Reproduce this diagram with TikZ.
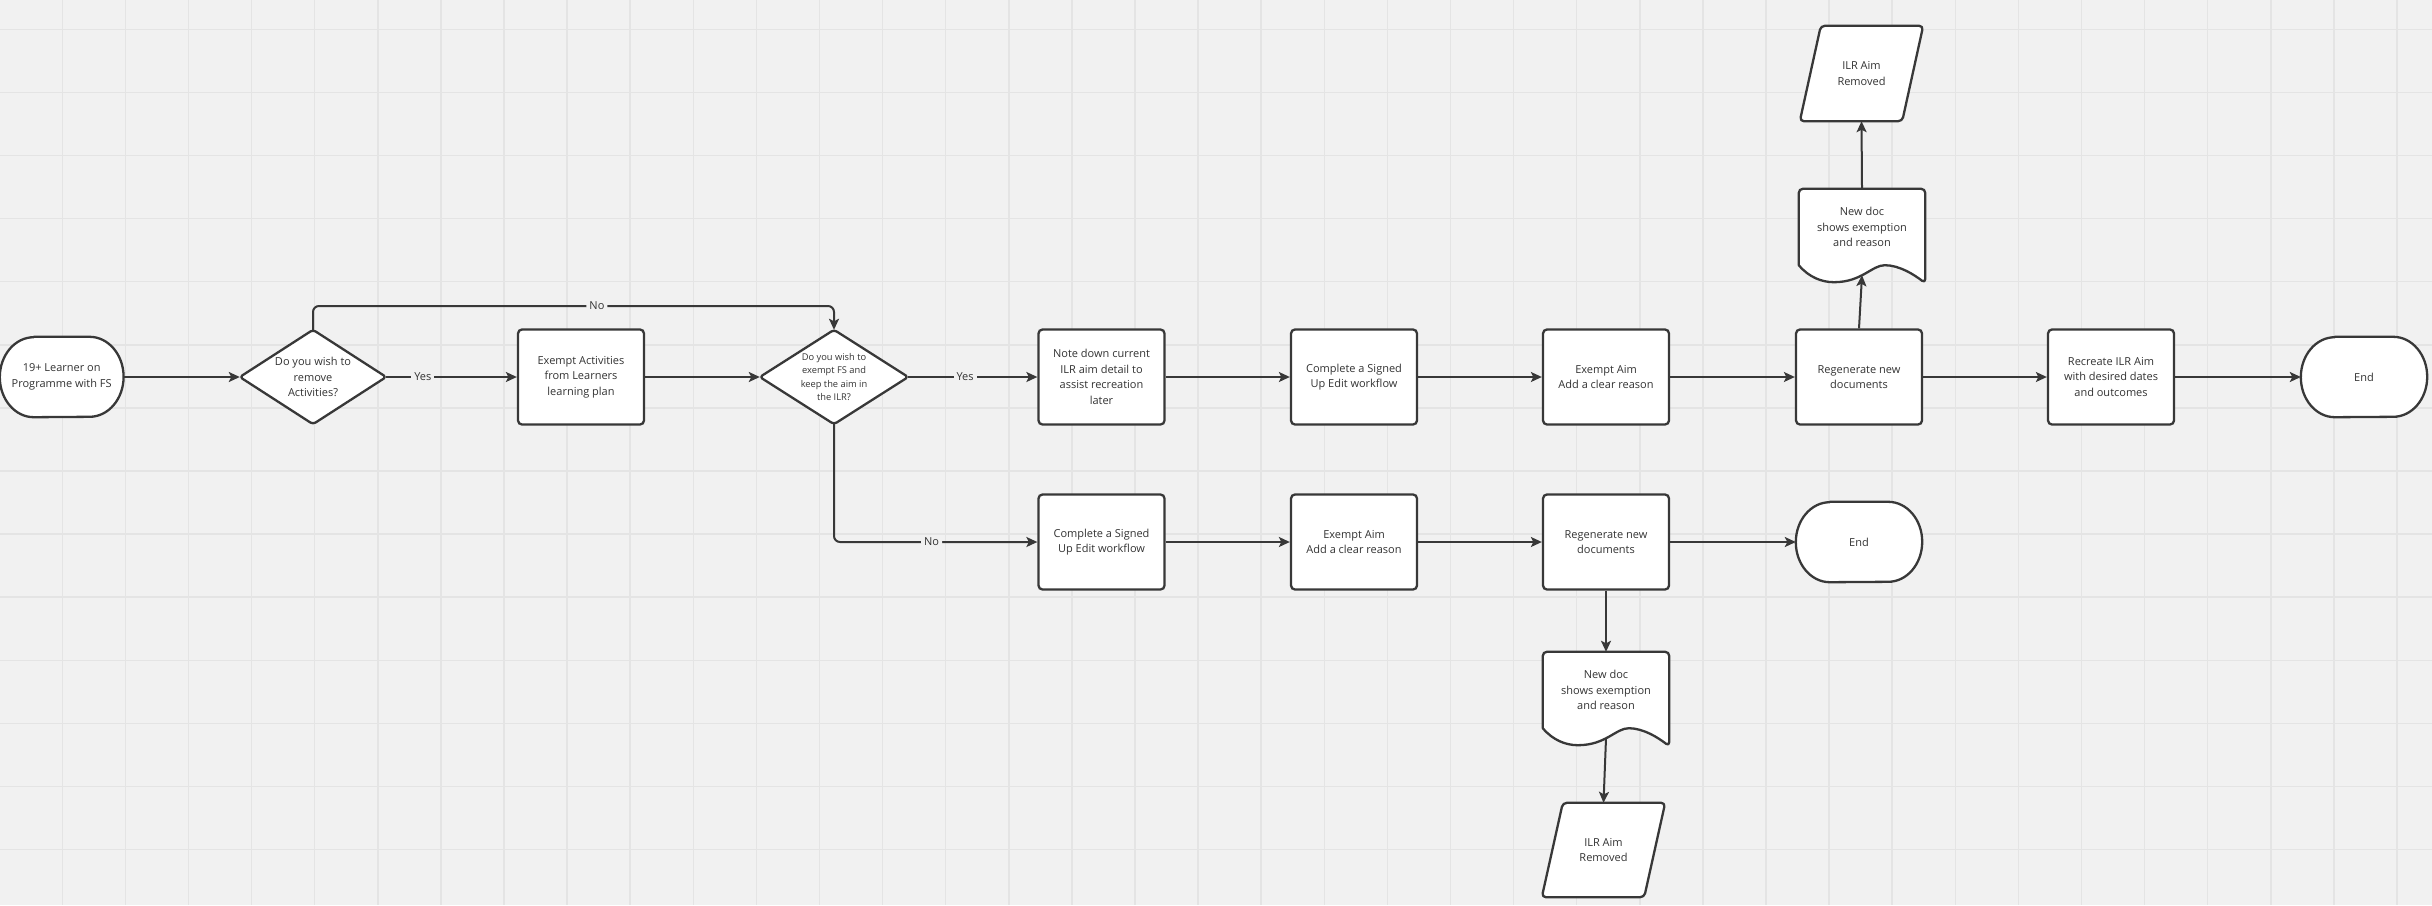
\documentclass[tikz,border=0pt]{standalone}
\usepackage{fontspec}
\setmainfont{Open Sans}
\usetikzlibrary{arrows.meta,calc}
\pgfdeclarelayer{gridlayer}
\pgfdeclarelayer{shapelayer}
\pgfsetlayers{gridlayer,shapelayer,main}
\definecolor{bgc}{HTML}{F1F1F1}
\definecolor{gridc}{HTML}{E4E4E4}
\definecolor{ink}{HTML}{383838}
\definecolor{txt}{HTML}{333333}
\tikzset{
  lbase/.style={font=\fontsize{11}{15.7}\selectfont, text=txt, align=center, inner sep=0pt},
  box/.style={lbase, draw=ink, line width=2.3pt, fill=white, rounded corners=4pt, minimum width=126pt, minimum height=95pt},
  ghost/.style 2 args={lbase, minimum width=#1, minimum height=#2},
  conn/.style={draw=ink, line width=2pt, -{Stealth[length=11pt,width=10pt,inset=2.5pt]}},
  outl/.style={draw=ink, line width=2.3pt, fill=white, line join=round},
  elbl/.style={font=\fontsize{11}{13}\selectfont, text=txt, fill=bgc, inner sep=3pt},
}
\newcommand\shpdiamond[1]{\draw[outl, rounded corners=3pt] (#1.north) -- (#1.east) -- (#1.south) -- (#1.west) -- cycle;}
\newcommand\shpterm[1]{\draw[outl] ([xshift=34pt]#1.north west) -- ([xshift=-34pt]#1.north east) arc[start angle=90, end angle=-90, x radius=34pt, y radius=40pt] -- ([xshift=34pt]#1.south west) arc[start angle=270, end angle=90, x radius=34pt, y radius=40pt] -- cycle;}
\newcommand\shppar[1]{\draw[outl, rounded corners=4pt] ([xshift=10.5pt]#1.north west) -- ([xshift=10.5pt]#1.north east) -- ([xshift=-10.5pt]#1.south east) -- ([xshift=-10.5pt]#1.south west) -- cycle;}
\newcommand\shpdoc[1]{\draw[outl, rounded corners=4pt] let \p1=(#1.north west), \p2=(#1.south east) in (\x1,\y2) -- (\x1,\y1) -- (\x2,\y1) -- (\x2,\y2-18pt) [sharp corners] .. controls (\x1+116pt,\y2-10pt) and (\x1+101pt,\y2) .. (\x1+86pt,\y2) .. controls (\x1+73pt,\y2) and (\x1+63pt,\y2-17pt) .. (\x1+35pt,\y2-17pt) .. controls (\x1+23pt,\y2-17pt) and (\x1+10pt,\y2-12pt) .. (\x1,\y2) -- cycle;}
\begin{document}
\begin{tikzpicture}[x=1pt,y=-1pt]
\useasboundingbox (0,0) rectangle (2432,905);
\begin{pgfonlayer}{gridlayer}
\fill[bgc] (0,0) rectangle (2432,905);
\foreach \i in {0,...,38} \draw[gridc, line width=1.5pt] ({-0.8+63.1*\i},0) -- ({-0.8+63.1*\i},905);
\foreach \j in {0,...,13} \draw[gridc, line width=1.5pt] (0,{29.3+63.1*\j}) -- (2432,{29.3+63.1*\j});
\end{pgfonlayer}

% row 1
\node[ghost={123.4pt}{80pt}] (start) at (61.7,377) {19+ Learner on\\Programme with FS};
\node[ghost={146pt}{94pt}] (d1) at (313,377) {Do you wish to\\remove\\Activities?};
\node[box] (exact) at (581,377) {Exempt Activities\\from Learners\\learning plan};
\node[ghost={148pt}{94pt}, font=\fontsize{9.3}{13.3}\selectfont] (d2) at (834,377) {Do you wish to\\exempt FS and\\keep the aim in\\the ILR?};
\node[box] (nd) at (1101.5,377) {Note down current\\ILR aim detail to\\assist recreation\\later};
\node[box] (cs1) at (1354,377) {Complete a Signed\\Up Edit workflow};
\node[box] (ea1) at (1606,377) {Exempt Aim\\Add a clear reason};
\node[box] (rg1) at (1859,377) {Regenerate new\\documents};
\node[box] (rc) at (2111,377) {Recreate ILR Aim\\with desired dates\\and outcomes};
\node[ghost={126pt}{80pt}] (end1) at (2364,377) {End};
\node[ghost={126pt}{76pt}] (doc1) at (1862,227) {New doc\\shows exemption\\and reason};
\node[ghost={102pt}{95pt}] (par1) at (1861.5,73.5) {ILR Aim\\Removed};

% row 2
\node[box] (cs2) at (1101.5,542) {Complete a Signed\\Up Edit workflow};
\node[box] (ea2) at (1354,542) {Exempt Aim\\Add a clear reason};
\node[box] (rg2) at (1606,542) {Regenerate new\\documents};
\node[ghost={126pt}{80pt}] (end2) at (1859,542) {End};
\node[ghost={126pt}{76pt}] (doc2) at (1606,690) {New doc\\shows exemption\\and reason};
\node[ghost={102pt}{94pt}] (par2) at (1603.5,850) {ILR Aim\\Removed};

\begin{pgfonlayer}{shapelayer}
\shpterm{start}
\shpdiamond{d1}
\shpdiamond{d2}
\shpterm{end1}
\shpterm{end2}
\shpdoc{doc1}
\shpdoc{doc2}
\shppar{par1}
\shppar{par2}
\end{pgfonlayer}

\coordinate (nt) at (0,306);
\draw[conn] (start) -- (d1.west);
\draw[conn] (d1.east) -- node[elbl, pos=0.28]{Yes} (exact.west);
\draw[conn] (exact) -- (d2.west);
\draw[conn, rounded corners=6pt] (d1.north) -- (d1.north |- nt) -- node[elbl, pos=0.545]{No} (d2.north |- nt) -- (d2.north);
\draw[conn] (d2.east) -- node[elbl, pos=0.44]{Yes} (nd.west);
\draw[conn] (nd) -- (cs1);
\draw[conn] (cs1) -- (ea1);
\draw[conn] (ea1) -- (rg1);
\draw[conn] (rg1) -- (rc);
\draw[conn] (rc) -- (end1.west);
\draw[conn] (rg1.north) -- ([yshift=-10pt]doc1.south);
\draw[conn] (doc1.north) -- (par1.south);

\draw[conn, rounded corners=6pt] (d2.south) |- node[elbl, pos=0.74]{No} (cs2.west);
\draw[conn] (cs2) -- (ea2);
\draw[conn] (ea2) -- (rg2);
\draw[conn] (rg2) -- (end2.west);
\draw[conn] (rg2.south) -- (doc2.north);
\draw[conn] ([yshift=-10pt]doc2.south) -- (par2.north);
\end{tikzpicture}
\end{document}
